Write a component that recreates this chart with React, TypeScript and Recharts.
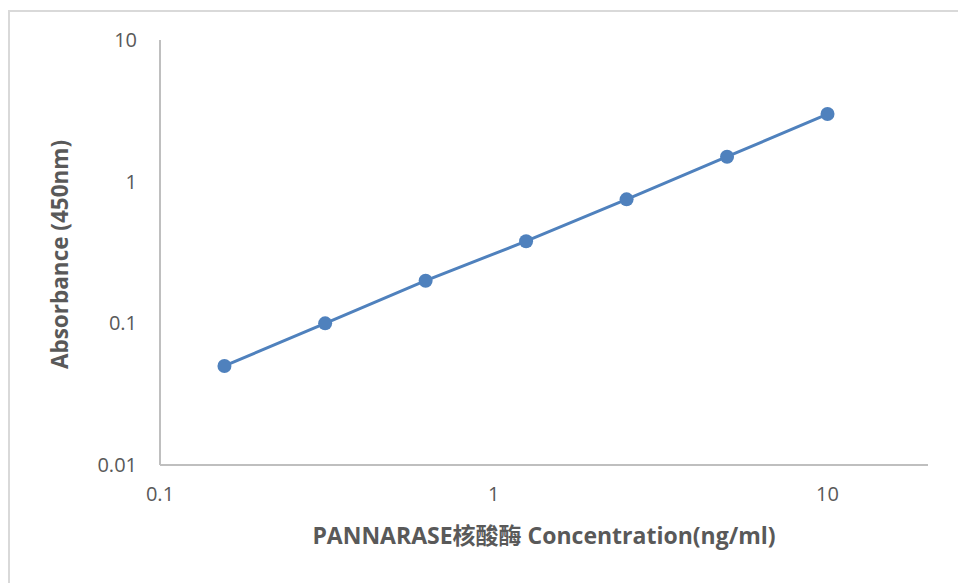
import React from 'react';
import { LineChart, Line, XAxis, YAxis } from 'recharts';

const concentrations = [0.156, 0.3125, 0.625, 1.25, 2.5, 5, 10];
const absorbances = [0.05, 0.1, 0.2, 0.38, 0.75, 1.5, 3.0];
const xTicks = [0.1, 1, 10];
const yTicks = [0.01, 0.1, 1, 10];

const data = concentrations.map((x, i) => ({ x, y: absorbances[i] }));

const FONT = '"Open Sans", "Noto Sans CJK SC", sans-serif';
const TEXT = '#595959';
const AXIS = '#bfbfbf';
const SERIES = '#4f81bd';

const fmt = (v: number) => String(v);

const App: React.FC = () => {
  return (
    <div
      style={{
        position: 'absolute',
        top: 0,
        left: 0,
        width: 958,
        height: 583,
        background: '#fff',
        overflow: 'hidden',
        fontFamily: FONT,
      }}
    >
      <div
        style={{
          position: 'absolute',
          top: 10,
          left: 8,
          width: 1000,
          height: 700,
          borderTop: '2px solid #d9d9d9',
          borderLeft: '2px solid #d9d9d9',
        }}
      />
      <div style={{ position: 'absolute', top: 0, left: 0 }}>
        <LineChart
          width={958}
          height={583}
          data={data}
          margin={{ top: 40, right: 30, bottom: 28, left: 30 }}
        >
          <XAxis
            dataKey="x"
            type="number"
            scale="log"
            domain={[0.1, 20]}
            ticks={xTicks}
            allowDataOverflow
            tickFormatter={fmt}
            height={90}
            stroke={AXIS}
            strokeWidth={2}
            tickLine={false}
            tickSize={0}
            tickMargin={22}
            tick={{ fill: TEXT, fontSize: 20, fontFamily: FONT }}
            label={{
              content: ({ viewBox }: any) => (
                <text
                  x={viewBox.x + viewBox.width / 2}
                  y={viewBox.y + 73}
                  textAnchor="middle"
                  dominantBaseline="middle"
                  fill={TEXT}
                  fontSize={23}
                  fontWeight="bold"
                  fontFamily={FONT}
                >
                  PANNARASE核酸酶 Concentration(ng/ml)
                </text>
              ),
            }}
          />
          <YAxis
            dataKey="y"
            type="number"
            scale="log"
            domain={[0.01, 10]}
            ticks={yTicks}
            allowDataOverflow
            tickFormatter={fmt}
            width={130}
            stroke={AXIS}
            strokeWidth={2}
            tickLine={false}
            tickSize={0}
            tickMargin={23}
            tick={{ fill: TEXT, fontSize: 20, fontFamily: FONT }}
            label={{
              content: ({ viewBox }: any) => {
                const cx = 62;
                const cy = viewBox.y + viewBox.height / 2 + 2;
                return (
                  <text
                    x={cx}
                    y={cy}
                    transform={`rotate(-90 ${cx} ${cy})`}
                    textAnchor="middle"
                    dominantBaseline="middle"
                    fill={TEXT}
                    fontSize={22.5}
                    fontWeight="bold"
                    fontFamily={FONT}
                  >
                    Absorbance (450nm)
                  </text>
                );
              },
            }}
          />
          <Line
            dataKey="y"
            stroke={SERIES}
            strokeWidth={3}
            dot={{ r: 7, fill: SERIES, stroke: SERIES, strokeWidth: 0 }}
            activeDot={false}
            isAnimationActive={false}
          />
        </LineChart>
      </div>
    </div>
  );
};

export default App;
